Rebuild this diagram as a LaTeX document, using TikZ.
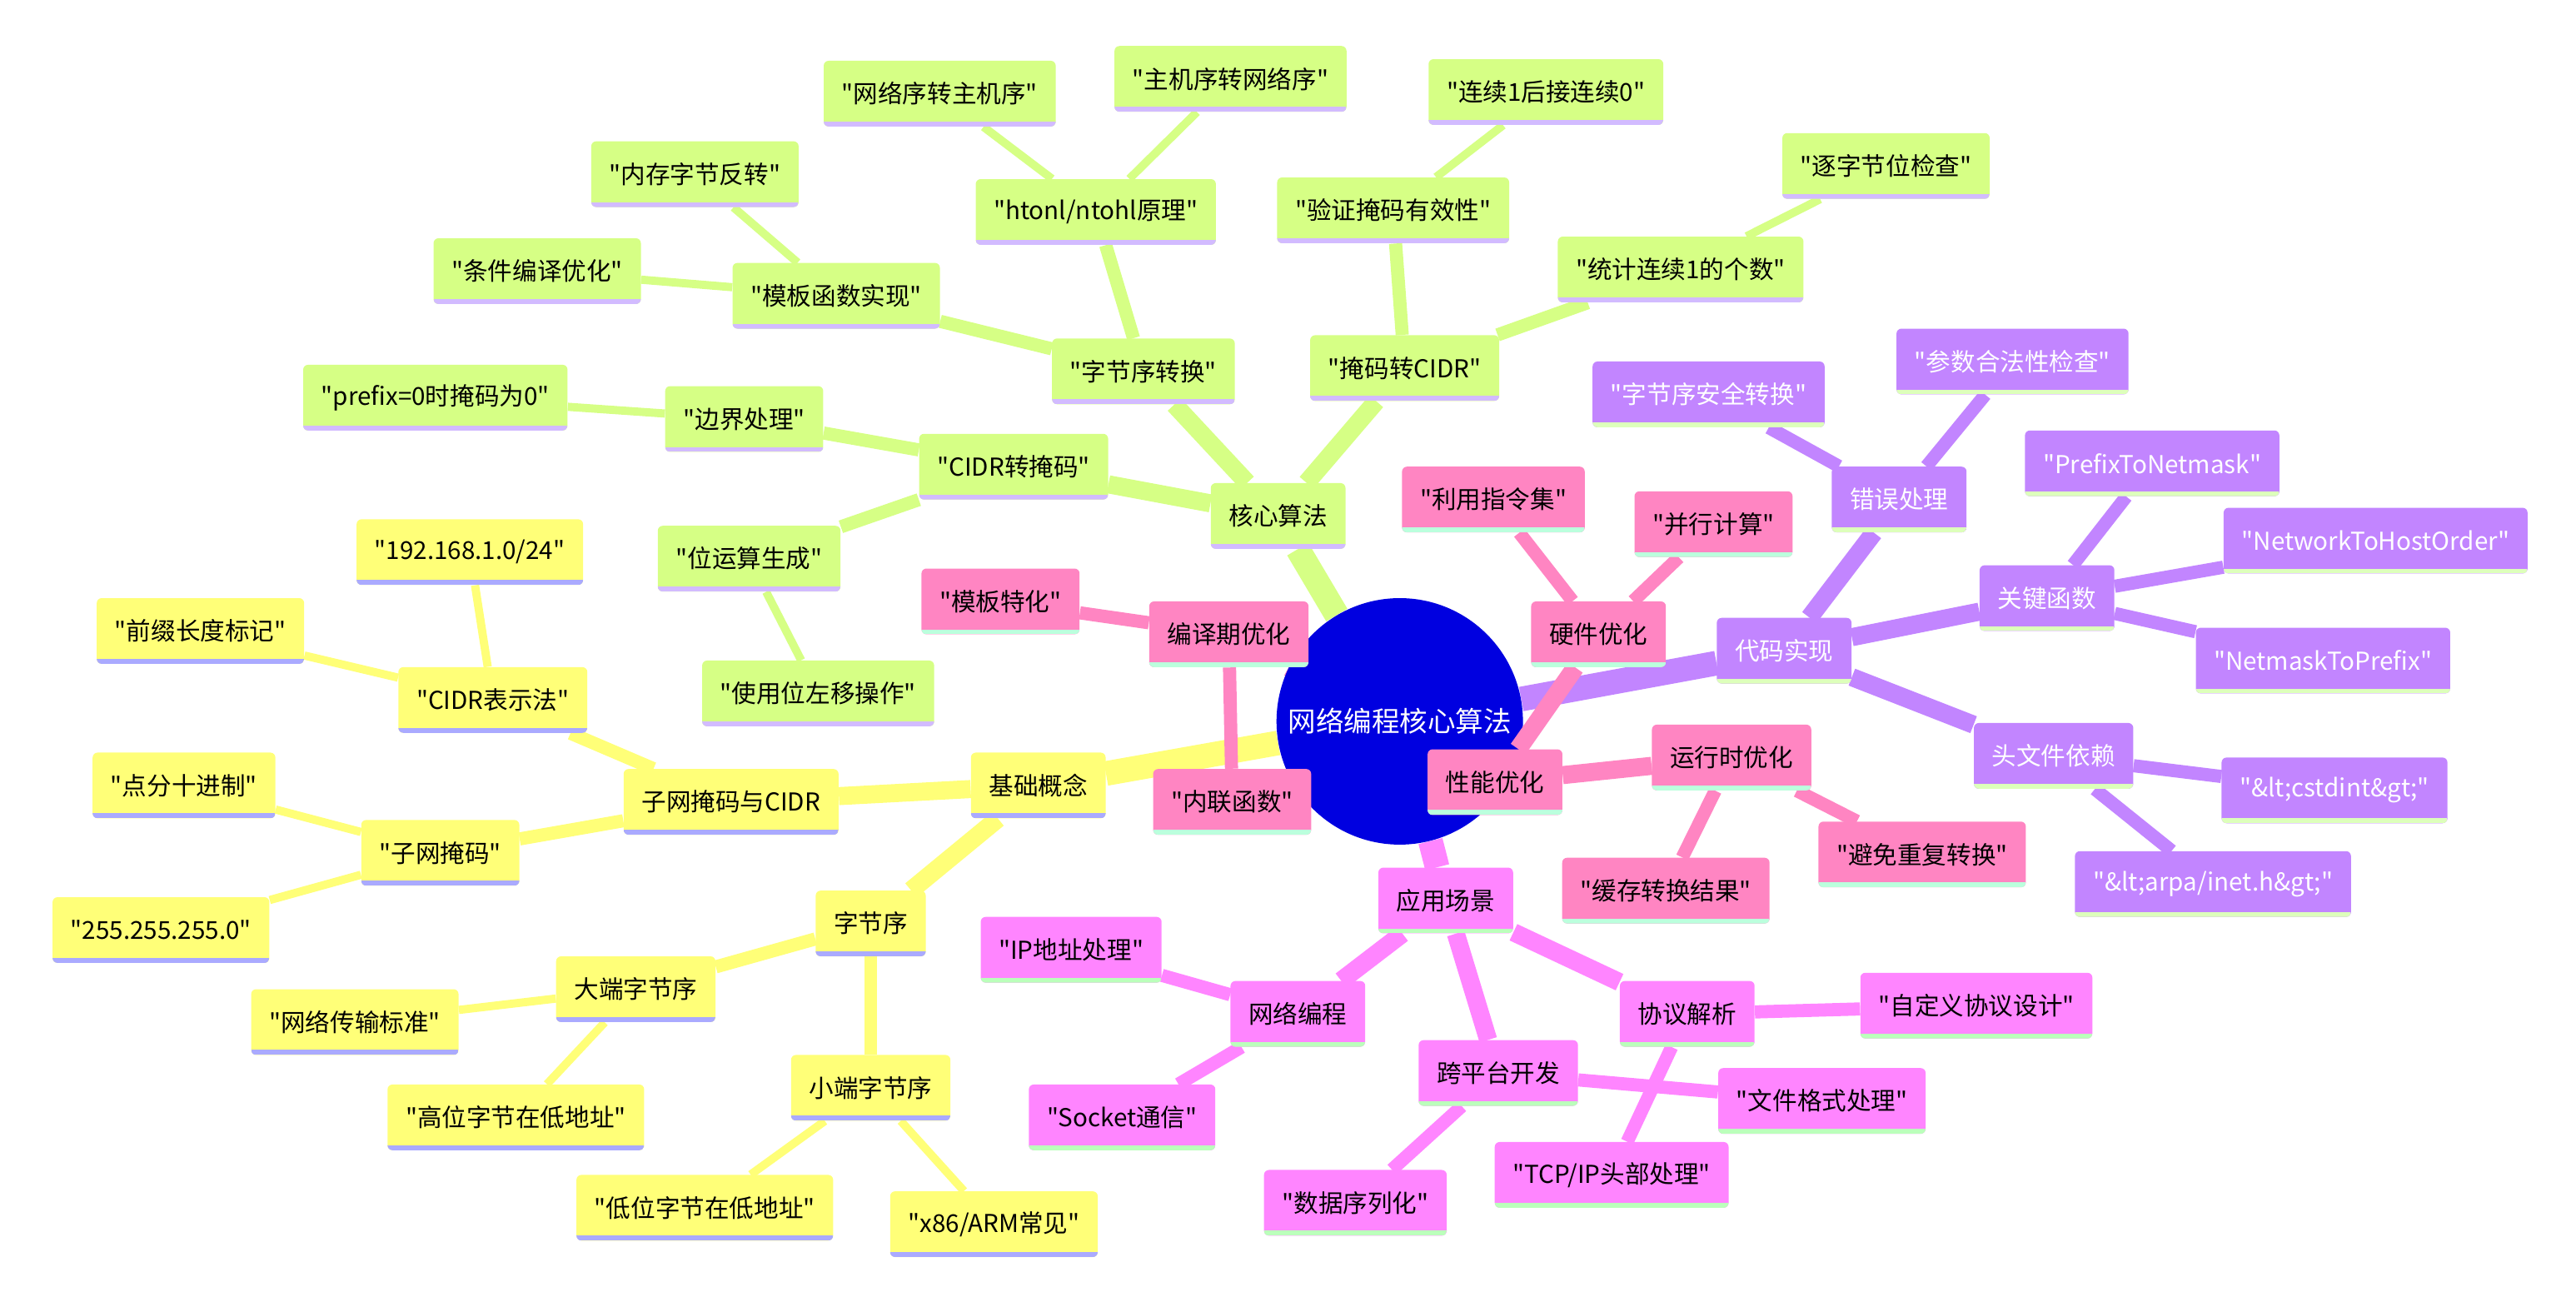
\documentclass[tikz,border=0pt]{standalone}
\usepackage{fontspec}
\setmainfont{Noto Sans CJK SC}[Ligatures=TeXOff]
\usetikzlibrary{positioning}

\definecolor{rootblue}{HTML}{0000E0}
\definecolor{cyel}{HTML}{FFFF78}
\definecolor{syel}{HTML}{AAAAFF}
\definecolor{cgrn}{HTML}{D6FF85}
\definecolor{sgrn}{HTML}{D2BBFF}
\definecolor{cpur}{HTML}{C285FF}
\definecolor{spur}{HTML}{DDFFBB}
\definecolor{cmag}{HTML}{FF85FF}
\definecolor{smag}{HTML}{BBFFBB}
\definecolor{cpnk}{HTML}{FF85C2}
\definecolor{spnk}{HTML}{BBFFDD}

\pgfdeclarelayer{edges}
\pgfdeclarelayer{rootlayer}
\pgfdeclarelayer{overroot}
\pgfsetlayers{edges,rootlayer,overroot,main}

\begin{document}
\begin{tikzpicture}[
    x=1pt, y=-1pt,
    mm/.style 2 args={rectangle, rounded corners=3pt, fill=#1, minimum height=40pt, inner xsep=11pt, inner ysep=0pt, font=\fontsize{15}{18}\selectfont,
        path picture={\fill[#2, sharp corners] (path picture bounding box.south west) rectangle ([yshift=3pt]path picture bounding box.south east);}},
    yel/.style={mm={cyel}{syel}},
    grn/.style={mm={cgrn}{sgrn}},
    pur/.style={mm={cpur}{spur}, text=white},
    mag/.style={mm={cmag}{smag}},
    pnk/.style={mm={cpnk}{spnk}},
    rootnode/.style={circle, fill=rootblue, text=white, minimum size=150pt, inner sep=0pt, font=\fontsize{17}{20}\selectfont},
    e0/.style={line width=15pt},
    e1/.style={line width=11pt},
    e2/.style={line width=8pt},
    e3/.style={line width=5pt}
]
\useasboundingbox (0,0) rectangle (1568,795);

% Root
\begin{pgfonlayer}{rootlayer}
\node[rootnode] (root) at (852, 439) {网络编程核心算法};
\end{pgfonlayer}

% Core algorithms
\node[grn] (core) at (778, 314) {核心算法};
\node[grn] (bswap) at (696, 226) {"字节序转换"};
\node[grn] (m2c) at (855, 224) {"掩码转CIDR"};
\node[grn] (c2m) at (617, 284) {"CIDR转掩码"};
\node[grn] (htonl) at (667, 129) {"htonl/ntohl原理"};
\node[grn] (tmpl) at (509, 180) {"模板函数实现"};
\node[grn] (n2h) at (572, 57) {"网络序转主机序"};
\node[grn] (h2n) at (749, 48) {"主机序转网络序"};
\node[grn] (memrev) at (423, 106) {"内存字节反转"};
\node[grn] (condc) at (327, 165) {"条件编译优化"};
\node[grn] (valid) at (848, 128) {"验证掩码有效性"};
\node[grn] (count) at (1023, 164) {"统计连续1的个数"};
\node[grn] (ones) at (941, 56) {"连续1后接连续0"};
\node[grn] (bytechk) at (1148, 101) {"逐字节位检查"};
\node[grn] (bound) at (453, 255) {"边界处理"};
\node[grn] (bitgen) at (456, 340) {"位运算生成"};
\node[grn] (pfx0) at (265, 242) {"prefix=0时掩码为0"};
\node[grn] (shl) at (498, 422) {"使用位左移操作"};

% Basic concepts
\node[yel] (basic) at (632, 478) {基础概念};
\node[yel] (subnet) at (445, 488) {子网掩码与CIDR};
\node[yel] (order) at (530, 562) {字节序};
\node[yel] (cidr) at (300, 426) {"CIDR表示法"};
\node[yel] (mask) at (268, 519) {"子网掩码"};
\node[yel] (ex24) at (286, 336) {"192.168.1.0/24"};
\node[yel] (pfxlen) at (122, 384) {"前缀长度标记"};
\node[yel] (dotted) at (112, 478) {"点分十进制"};
\node[yel] (ex255) at (98, 566) {"255.255.255.0"};
\node[yel] (big) at (387, 602) {大端字节序};
\node[yel] (little) at (530, 662) {小端字节序};
\node[yel] (netstd) at (216, 622) {"网络传输标准"};
\node[yel] (hilo) at (314, 680) {"高位字节在低地址"};
\node[yel] (lolo) at (429, 735) {"低位字节在低地址"};
\node[yel] (x86) at (605, 745) {"x86/ARM常见"};

% Performance
\node[pnk] (perf) at (910, 476) {性能优化};
\node[pnk] (compile) at (748, 386) {编译期优化};
\node[pnk] (hw) at (973, 386) {硬件优化};
\node[pnk] (runtime) at (1054, 461) {运行时优化};
\node[pnk] (spec) at (609, 366) {"模板特化"};
\node[pnk] (inline) at (750, 488) {"内联函数"};
\node[pnk] (simd) at (909, 304) {"利用指令集"};
\node[pnk] (par) at (1043, 319) {"并行计算"};
\node[pnk] (cache) at (1014, 542) {"缓存转换结果"};
\node[pnk] (avoid) at (1170, 520) {"避免重复转换"};

% Code
\node[pur] (code) at (1086, 396) {代码实现};
\node[pur] (err) at (1156, 304) {错误处理};
\node[pur] (keyfn) at (1246, 364) {关键函数};
\node[pur] (hdr) at (1250, 460) {头文件依赖};
\node[pur] (safe) at (1040, 240) {"字节序安全转换"};
\node[pur] (argchk) at (1225, 220) {"参数合法性检查"};
\node[pur] (p2n) at (1310, 282) {"PrefixToNetmask"};
\node[pur] (n2ho) at (1446, 329) {"NetworkToHostOrder"};
\node[pur] (n2p) at (1414, 402) {"NetmaskToPrefix"};
\node[pur] (cstd) at (1421, 481) {"\&lt;cstdint\&gt;"};
\node[pur] (inet) at (1347, 538) {"\&lt;arpa/inet.h\&gt;"};

% Applications
\node[mag] (app) at (880, 548) {应用场景};
\node[mag] (netprog) at (790, 617) {网络编程};
\node[mag] (xplat) at (912, 653) {跨平台开发};
\node[mag] (proto) at (1027, 617) {协议解析};
\node[mag] (ipaddr) at (652, 578) {"IP地址处理"};
\node[mag] (sock) at (683, 680) {"Socket通信"};
\node[mag] (serial) at (825, 732) {"数据序列化"};
\node[mag] (fmt) at (1109, 670) {"文件格式处理"};
\node[mag] (custom) at (1203, 612) {"自定义协议设计"};
\node[mag] (tcpip) at (981, 715) {"TCP/IP头部处理"};

% Branches
\begin{pgfonlayer}{edges}
\draw[e0, cgrn] (root) -- (core);
\draw[e0, cyel] (root) -- (basic);
\draw[e0, cpnk] (root) -- (perf);
\draw[e0, cpur] (root) -- (code);
\draw[e0, cmag] (root) -- (app);

\draw[e1, cgrn] (core) -- (bswap);
\draw[e1, cgrn] (core) -- (m2c);
\draw[e1, cgrn] (core) -- (c2m);
\draw[e2, cgrn] (bswap) -- (htonl);
\draw[e2, cgrn] (bswap) -- (tmpl);
\draw[e3, cgrn] (htonl) -- (n2h);
\draw[e3, cgrn] (htonl) -- (h2n);
\draw[e3, cgrn] (tmpl) -- (memrev);
\draw[e3, cgrn] (tmpl) -- (condc);
\draw[e2, cgrn] (m2c) -- (valid);
\draw[e2, cgrn] (m2c) -- (count);
\draw[e3, cgrn] (valid) -- (ones);
\draw[e3, cgrn] (count) -- (bytechk);
\draw[e2, cgrn] (c2m) -- (bound);
\draw[e2, cgrn] (c2m) -- (bitgen);
\draw[e3, cgrn] (bound) -- (pfx0);
\draw[e3, cgrn] (bitgen) -- (shl);

\draw[e1, cyel] (basic) -- (subnet);
\draw[e1, cyel] (basic) -- (order);
\draw[e2, cyel] (subnet) -- (cidr);
\draw[e2, cyel] (subnet) -- (mask);
\draw[e3, cyel] (cidr) -- (ex24);
\draw[e3, cyel] (cidr) -- (pfxlen);
\draw[e3, cyel] (mask) -- (dotted);
\draw[e3, cyel] (mask) -- (ex255);
\draw[e2, cyel] (order) -- (big);
\draw[e2, cyel] (order) -- (little);
\draw[e3, cyel] (big) -- (netstd);
\draw[e3, cyel] (big) -- (hilo);
\draw[e3, cyel] (little) -- (lolo);
\draw[e3, cyel] (little) -- (x86);

\draw[e1, cpnk] (perf) -- (compile);
\draw[e1, cpnk] (perf) -- (runtime);
\draw[e2, cpnk] (compile) -- (spec);
\draw[e2, cpnk] (compile) -- (inline);
\draw[e2, cpnk] (hw) -- (simd);
\draw[e2, cpnk] (hw) -- (par);
\draw[e2, cpnk] (runtime) -- (cache);
\draw[e2, cpnk] (runtime) -- (avoid);

\draw[e1, cpur] (code) -- (err);
\draw[e1, cpur] (code) -- (keyfn);
\draw[e1, cpur] (code) -- (hdr);
\draw[e2, cpur] (err) -- (safe);
\draw[e2, cpur] (err) -- (argchk);
\draw[e2, cpur] (keyfn) -- (p2n);
\draw[e2, cpur] (keyfn) -- (n2ho);
\draw[e2, cpur] (keyfn) -- (n2p);
\draw[e2, cpur] (hdr) -- (cstd);
\draw[e2, cpur] (hdr) -- (inet);

\draw[e1, cmag] (app) -- (netprog);
\draw[e1, cmag] (app) -- (xplat);
\draw[e1, cmag] (app) -- (proto);
\draw[e2, cmag] (netprog) -- (ipaddr);
\draw[e2, cmag] (netprog) -- (sock);
\draw[e2, cmag] (xplat) -- (serial);
\draw[e2, cmag] (xplat) -- (fmt);
\draw[e2, cmag] (proto) -- (custom);
\draw[e2, cmag] (proto) -- (tcpip);
\end{pgfonlayer}

% This one crosses over the root
\begin{pgfonlayer}{overroot}
\draw[e1, cpnk] (perf) -- (hw);
\end{pgfonlayer}

\end{tikzpicture}
\end{document}
